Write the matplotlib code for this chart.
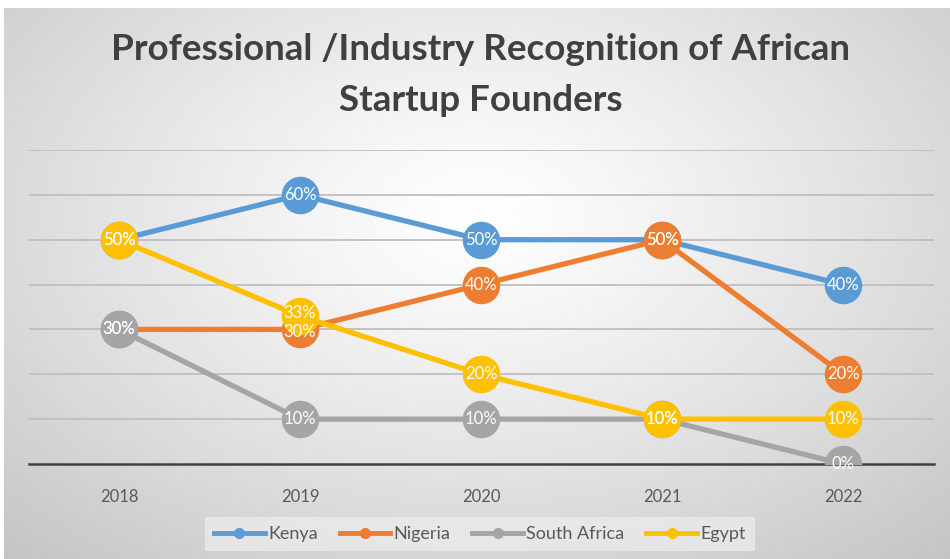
import numpy as np
import matplotlib
matplotlib.use('Agg')
from matplotlib import pyplot as plt
from matplotlib.lines import Line2D

plt.rcParams['font.family'] = ['Lato', 'DejaVu Sans']

years = ['2018', '2019', '2020', '2021', '2022']
kenya = [0.50, 0.60, 0.50, 0.50, 0.40]
nigeria = [0.30, 0.30, 0.40, 0.50, 0.20]
south_africa = [0.30, 0.10, 0.10, 0.10, 0.00]
egypt = [0.50, 0.33, 0.20, 0.10, 0.10]

series = [('Kenya', kenya, '#5B9BD5'),
          ('Nigeria', nigeria, '#ED7D31'),
          ('South Africa', south_africa, '#A5A5A5'),
          ('Egypt', egypt, '#FFC000')]

W, H = 950, 559
fig = plt.figure(figsize=(W / 100, H / 100), dpi=100)
fig.patch.set_facecolor('white')

# radial gradient background of the chart area
bg = fig.add_axes([4 / W, 0, 1 - 4 / W, 1 - 8 / H])
yy, xx = np.mgrid[0:1:300j, 0:1:500j]
d = np.sqrt(((xx - 0.5) / 0.75) ** 2 + ((yy - 0.38) / 0.85) ** 2)
d = np.clip(d / d.max(), 0, 1)
g = 1.0 - 0.23 * d ** 1.2
bg.imshow(np.dstack([g, g, g]), extent=[0, 1, 1, 0], aspect='auto')
bg.axis('off')

ax = fig.add_axes([28.5 / W, (H - 464) / H, 905 / W, 314 / H])
ax.patch.set_alpha(0)
x = np.arange(len(years))

for i, (name, vals, col) in enumerate(series):
    ax.plot(x, vals, color=col, lw=3.8, marker='o', ms=26, mec=col,
            solid_capstyle='round', zorder=3 + i)

# data labels; nudge apart labels that nearly coincide (e.g. 33% / 30%)
for i, (name, vals, col) in enumerate(series):
    for xi, v in zip(x, vals):
        dy = 0
        for _, other, _ in series:
            o = other[xi]
            if 0 < abs(o - v) < 0.05:
                dy = 2 if v > o else -2
        ax.annotate('{:.0%}'.format(v), (xi, v), xytext=(0, dy),
                    textcoords='offset points', color='white', ha='center',
                    va='center', fontsize=12, zorder=10)

ax.set_xlim(-0.5, len(years) - 0.5)
ax.set_ylim(0, 0.7)
ax.set_yticks(np.arange(0.1, 0.71, 0.1))
ax.yaxis.grid(True, color='#BFBFBF', lw=1.3)
ax.set_axisbelow(True)
ax.tick_params(axis='y', left=False, labelleft=False)
ax.tick_params(axis='x', length=0, pad=18, labelsize=12, labelcolor='#595959')
ax.set_xticks(x)
ax.set_xticklabels(years)
for s in ['top', 'right', 'left']:
    ax.spines[s].set_visible(False)
ax.spines['bottom'].set_color('#404040')
ax.spines['bottom'].set_linewidth(1.8)

fig.text(481 / W, 1 - 50 / H, 'Professional /Industry Recognition of African',
         ha='center', va='center', fontsize=26.5, fontweight='bold', color='#404040')
fig.text(481 / W, 1 - 100 / H, 'Startup Founders',
         ha='center', va='center', fontsize=26.5, fontweight='bold', color='#404040')

handles = [Line2D([0], [0], color=c, lw=3.5, marker='o', ms=7) for _, _, c in series]
leg = fig.legend(handles, [n for n, _, _ in series], loc='center',
                 bbox_to_anchor=(480 / W, 1 - 534 / H), ncol=4, frameon=True,
                 fontsize=13, handlelength=2.8, columnspacing=1.2,
                 handletextpad=0.2, borderpad=0.5)
leg.get_frame().set_facecolor('#EBEBEB')
leg.get_frame().set_edgecolor('none')
leg.get_frame().set_boxstyle('square', pad=0)
for t in leg.get_texts():
    t.set_color('#595959')

fig.savefig('out.png', dpi=100)
